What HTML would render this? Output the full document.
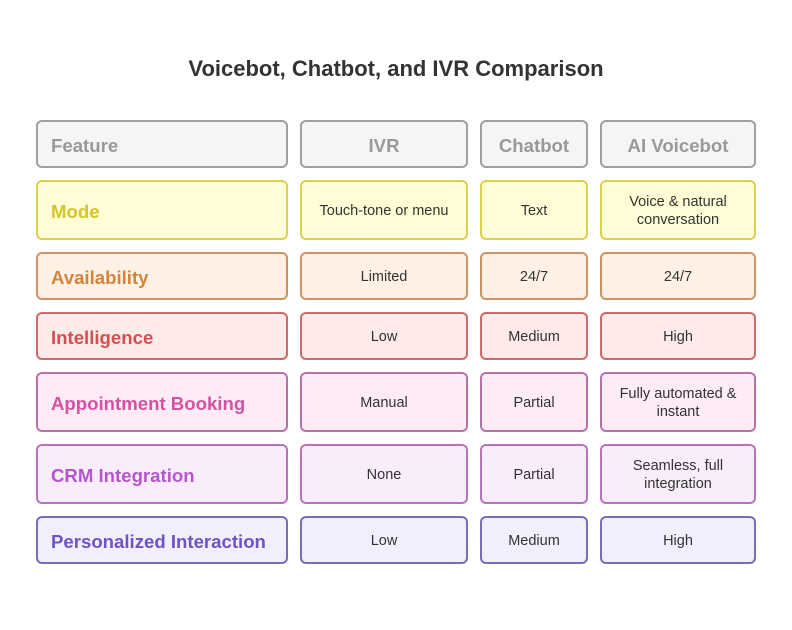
<!DOCTYPE html>
<html><head><style>
body{margin:0;width:792px;height:630px;background:#fff;position:relative;font-family:"Liberation Sans",Arial,sans-serif;overflow:hidden}
h1{position:absolute;top:56px;left:0;width:792px;text-align:center;margin:0;font-size:22px;font-weight:bold;color:#333}
.c{position:absolute;box-sizing:border-box;border:2px solid;border-radius:6px;display:flex;align-items:center;justify-content:center;text-align:center;font-size:14.5px;color:#333;line-height:18px;padding-top:2px}
.f{justify-content:flex-start;padding-left:13px;font-weight:bold;font-size:18.6px;padding-top:4px}
.h{font-weight:bold;font-size:18.6px;color:#999;border-color:#a0a0a0;background:#f5f5f5;padding-top:4px}
</style></head><body>
<h1>Voicebot, Chatbot, and IVR Comparison</h1>
<div id="t"></div>
<script>
var cols=[[36,252],[300,168],[480,108],[600,156]];
var rows=[[120,48,'#a0a0a0','#f5f5f5','#999',['Feature','IVR','Chatbot','AI Voicebot']],
[180,60,'#ddd050','#fefdd6','#d6c428',['Mode','Touch-tone or menu','Text','Voice &amp; natural<br>conversation']],
[252,48,'#cc9462','#fff1e5','#d4843a',['Availability','Limited','24/7','24/7']],
[312,48,'#cc6a6a','#ffeaea','#d45050',['Intelligence','Low','Medium','High']],
[372,60,'#b872a6','#fdebf6','#d452a2',['Appointment Booking','Manual','Partial','Fully automated &amp;<br>instant']],
[444,60,'#b474bc','#f9edfb','#b456cc',['CRM Integration','None','Partial','Seamless, full<br>integration']],
[516,48,'#7c6cba','#f1effd','#7052c4',['Personalized Interaction','Low','Medium','High']]];
var s='';
rows.forEach(function(r,ri){cols.forEach(function(c,ci){
var cls='c'+(ri==0?' h':'')+(ci==0?' f':'');
var st='left:'+c[0]+'px;top:'+r[0]+'px;width:'+c[1]+'px;height:'+r[1]+'px;border-color:'+r[2]+';background:'+r[3]+';';
if(ci==0||ri==0)st+='color:'+r[4]+';';
s+='<div class="'+cls+'" style="'+st+'">'+r[5][ci]+'</div>';});});
document.getElementById('t').innerHTML=s;
</script>
</body></html>
